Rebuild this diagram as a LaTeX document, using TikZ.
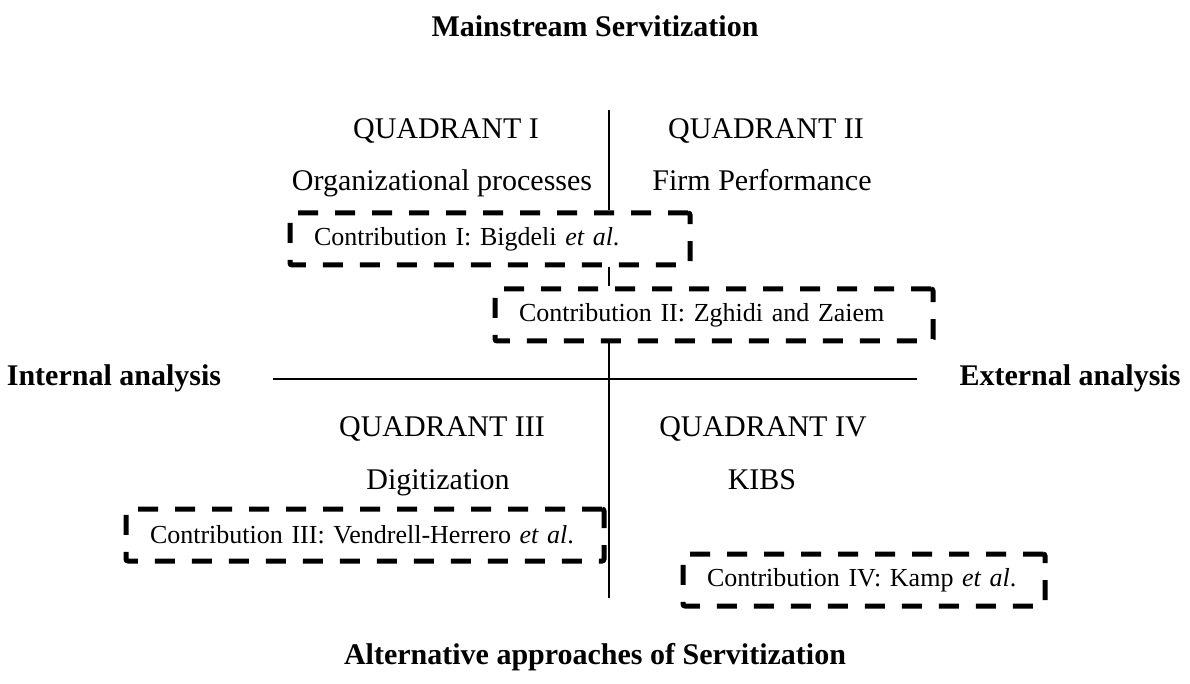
\documentclass[tikz,border=0pt]{standalone}
\usepackage{fontspec}
\setmainfont{Liberation Serif}
\usepackage{tikz}

\begin{document}
\begin{tikzpicture}[x=0.5pt,y=-0.5pt,
        every node/.style={font=\fontsize{15}{18}\selectfont},
        heading/.style={font=\fontsize{15}{18}\selectfont\bfseries},
        quad/.style={anchor=base},
        axis/.style={line width=1pt},
        contrib/.style={draw, line width=2.5pt, dash pattern=on 10pt off 8.5pt,
            rounded corners=1pt, align=left, inner xsep=12pt, minimum height=26pt,
            font=\fontsize{13}{16}\selectfont}]
        \useasboundingbox (0,0) rectangle (1190,684);

        % Headings on the four sides
        \node[heading] (mainstream) at (595,26) {Mainstream Servitization};
        \node[heading] (alternative) at (595,657) {Alternative approaches of Servitization};
        \node[heading] (internal) at (114,378) {Internal analysis};
        \node[heading] (external) at (1070,378) {External analysis};

        % The four quadrants
        \node[quad] (q1) at (446,139) {QUADRANT I};
        \node[quad] (q1sub) at (442,191) {Organizational processes};
        \node[quad] (q2) at (766,139) {QUADRANT II};
        \node[quad] (q2sub) at (762,191) {Firm Performance};
        \node[quad] (q3) at (442,437) {QUADRANT III};
        \node[quad] (q3sub) at (438,489) {Digitization};
        \node[quad] (q4) at (763,437) {QUADRANT IV};
        \node[quad] (q4sub) at (762,489) {KIBS};

        % Contributions
        \node[contrib, text width=176pt] (c1) at (490,239) {Contribution I: Bigdeli \textit{et al}.};
        \node[contrib, text width=195pt] (c2) at (714,315) {Contribution II: Zghidi and Zaiem};
        \node[contrib, text width=215pt] (c3) at (365,535) {Contribution III: Vendrell-Herrero \textit{et al}.};
        \node[contrib, text width=157pt] (c4) at (864,580) {Contribution IV: Kamp \textit{et al}.};

        % Axes
        \coordinate (axtop) at (609,110);
        \coordinate (axbot) at (609,598);
        \coordinate (axleft) at (273,379);
        \coordinate (axright) at (917,379);
        \draw[axis] (axtop) -- (axtop |- c1.north);
        \draw[axis] (c1.south -| axtop) -- (c2.north -| axtop);
        \draw[axis] (c2.south -| axtop) -- (axbot);
        \draw[axis] (axleft) -- (axright);
    \end{tikzpicture}
\end{document}
